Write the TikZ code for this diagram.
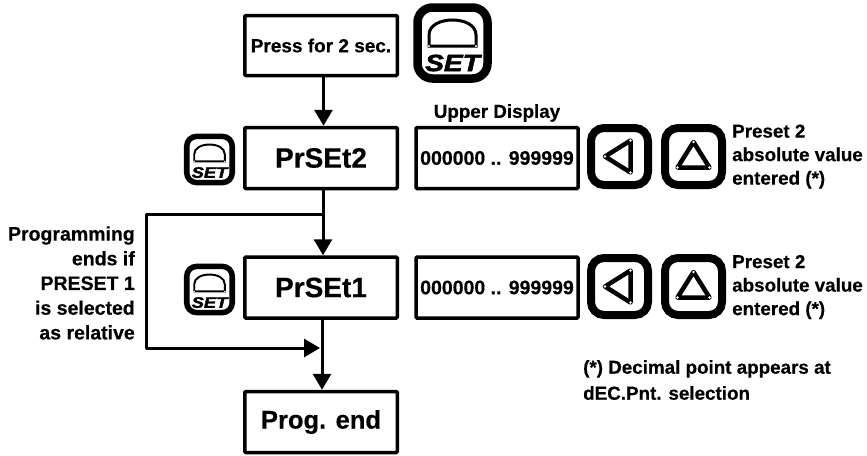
\documentclass[tikz,border=0pt]{standalone}
\usepackage{fontspec}
\setmainfont[BoldFeatures={FakeBold=0.4}]{Liberation Sans}
\newfontface\setface[FakeBold=2]{Liberation Sans Bold Italic}
\usetikzlibrary{arrows.meta, positioning}

\tikzset{
    box/.style={draw, line width=3.5pt, rounded corners=1pt, inner sep=0pt, minimum width=152.5pt, minimum height=61pt, font=\bfseries\fontsize{28}{32}\selectfont},
    valbox/.style={box, minimum width=162pt, font=\bfseries\fontsize{19.5}{23}\selectfont},
    txt/.style={inner sep=0pt, font=\bfseries\fontsize{18.8}{23.5}\selectfont},
    link/.style={line width=3pt, -{Triangle[length=16pt,width=18pt]}},
    % Nut SET
    pics/setbtn/.style={code={
        \begin{scope}[scale=#1]
            \draw[line width=#1*8.5pt, rounded corners=#1*15pt] (-35,-35.5) rectangle (35,35.5);
            \draw[line width=#1*3pt] (-23.5,3) -- (-23.5,-8) .. controls (-23.5,-18) and (-12,-23) .. (0,-23) .. controls (12,-23) and (23.5,-18) .. (23.5,-8) -- (23.5,3) -- cycle;
            \fill[white] (-23.5,3) circle (1.2) (23.5,3) circle (1.2);
            \node[inner sep=0pt, transform shape, xscale=1.2, font=\setface\fontsize{23.5}{24}\selectfont] (-lbl) at (0,20) {SET};
        \end{scope}
    }},
    % Nut tam giac
    pics/arrowbtn/.style={code={
        \draw[line width=8pt, rounded corners=13pt] (-28.5,-28.5) rectangle (28.5,28.5);
        \begin{scope}[rotate=#1]
            \draw[line width=4.5pt, line join=round] (-14.5,0) -- (11,-16) -- (11,16) -- cycle;
            \fill[white] (-14.5,0) circle (1.3) (11,-16) circle (1.3) (11,16) circle (1.3);
        \end{scope}
    }},
}

\begin{document}
\begin{tikzpicture}[x=1pt,y=-1pt]

    \useasboundingbox (0,0) rectangle (867,455);

    % Cac hop chinh
    \node[box, minimum height=60pt, font=\bfseries\fontsize{19}{22}\selectfont] (press) at (321,45.5) {Press for 2 sec.};
    \node[box] (prset2) at (321,158) {PrSEt2};
    \node[box] (prset1) at (321,287.5) {PrSEt1};
    \node[box, font=\bfseries\fontsize{25.5}{30}\selectfont] (progend) at (321,422) {Prog. end};

    % Hop gia tri
    \node[valbox] (val2) at (497,158) {000000 .. 999999};
    \node[valbox] (val1) at (497,287.5) {000000 .. 999999};

    % Cac nut
    \pic (setbig) at (452.5,43) {setbtn=1};
    \pic (set2) at (209.5,159.5) {setbtn=0.65};
    \pic (set1) at (209.5,289.5) {setbtn=0.65};
    \pic (left2) at (619.5,156.5) {arrowbtn=0};
    \pic (up2) at (693.5,156.5) {arrowbtn=-90};
    \pic (left1) at (619.5,286.5) {arrowbtn=0};
    \pic (up1) at (693.5,286.5) {arrowbtn=-90};

    % Mui ten
    \coordinate (split) at (323,214);
    \coordinate (cornerA) at (146,214);
    \coordinate (cornerB) at (146,348);
    \coordinate (merge) at (320,348);
    \draw[link] ([xshift=2.5pt]press.south) -- ([xshift=2.5pt]prset2.north);
    \draw[link] ([xshift=2pt]prset2.south) -- ([xshift=2pt]prset1.north);
    \draw[link] ([xshift=1pt]prset1.south) -- ([xshift=1pt]progend.north);
    \draw[link, line join=round] (split) -- (cornerA) -- (cornerB) -- (merge);

    % Chu
    \node[txt] (upper) at (497,113) {Upper Display};
    \node[txt, anchor=west, align=left] (note2) at (732,156.5) {Preset 2\\absolute value\\entered (*)};
    \node[txt, anchor=west, align=left] (note1) at (732,287) {Preset 2\\absolute value\\entered (*)};
    \node[txt, anchor=east, align=right, font=\bfseries\fontsize{19.5}{24.7}\selectfont] (ends) at (135,283) {Programming\\ends if\\PRESET 1\\is selected\\as relative};
    \node[txt, anchor=west, align=left, font=\bfseries\fontsize{18.8}{26}\selectfont] (point) at (583,380) {(*) Decimal point appears at\\dEC.Pnt. selection};

\end{tikzpicture}
\end{document}
